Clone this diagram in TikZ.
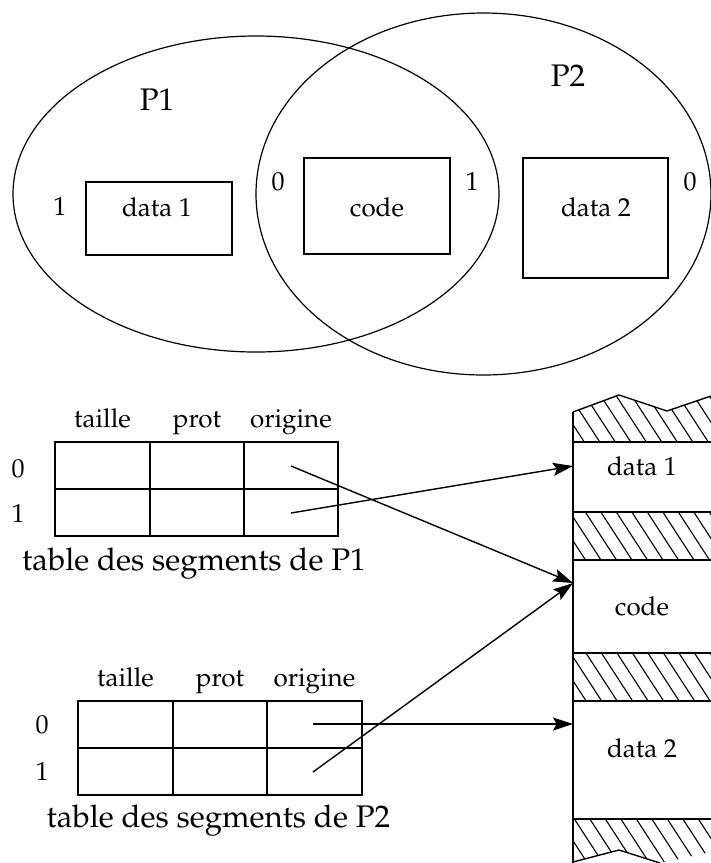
\documentclass[tikz,border=0pt]{standalone}
\usepackage[T1]{fontenc}
\usepackage{mathpazo}
\usetikzlibrary{arrows.meta}
\begin{document}
\begin{tikzpicture}[x=0.5pt,y=-0.5pt,
  line width=0.7pt,
  small/.style={font=\fontsize{13}{15}\selectfont, inner sep=0pt, anchor=base},
  big/.style={font=\fontsize{15.6}{18}\selectfont, inner sep=0pt, anchor=base},
  ptr/.style={-{Stealth[length=10pt,width=6.5pt,inset=1.8pt]}, line width=0.7pt},
  hatch/.style={line width=0.55pt}]
\useasboundingbox (0,0) rectangle (711,863);

% ---- process address spaces ----
\draw[line width=0.6pt] (256,194) ellipse [x radius=243, y radius=158];
\draw[line width=0.6pt] (483.5,194) ellipse [x radius=227.5, y radius=181];

\node[big] (p1) at (157,110) {P1};
\node[big] (p2) at (568,86) {P2};

\draw (86,182) rectangle (232,255);
\draw (304,158) rectangle (450,254);
\draw (523,158) rectangle (668,278);
\node[small] (d1) at (157,216) {data 1};
\node[small] (cd) at (377,216) {code};
\node[small] (d2) at (596,216) {data 2};

\node[small] (n1a) at (60,215) {1};
\node[small] (n0a) at (278,190) {0};
\node[small] (n1b) at (472,190) {1};
\node[small] (n0b) at (690,190) {0};

% ---- segment table of P1 ----
\draw (55,442) rectangle (338,536);
\draw (55,489) -- (338,489);
\draw (150,442) -- (150,536);
\draw (244,442) -- (244,536);
\node[small] (ha1) at (102.5,427) {taille};
\node[small] (hb1) at (197,427) {prot};
\node[small] (hc1) at (291,427) {origine};
\node[small] (r01) at (18,477) {0};
\node[small] (r11) at (18,522) {1};
\node[big] (cap1) at (194,570) {table des segments de P1};
\coordinate (a10) at (291,466);
\coordinate (a11) at (291,513);

% ---- segment table of P2 ----
\draw (78,701) rectangle (362,795);
\draw (78,748) -- (362,748);
\draw (173,701) -- (173,795);
\draw (267,701) -- (267,795);
\node[small] (ha2) at (125.5,686) {taille};
\node[small] (hb2) at (220,686) {prot};
\node[small] (hc2) at (314.5,686) {origine};
\node[small] (r02) at (42,733) {0};
\node[small] (r12) at (42,780) {1};
\node[big] (cap2) at (218.5,827) {table des segments de P2};
\coordinate (a20) at (313,724);
\coordinate (a21) at (313,772);

% ---- memory ----
% hatched bands
\begin{scope}
  \clip (573,412) -- (619,395) -- (667,411) -- (711,396) -- (711,442) -- (573,442) -- cycle;
  \foreach \x in {420,435.5,...,720} \draw[hatch] (\x,380) -- ({\x+0.65*100},480);
\end{scope}
\begin{scope}
  \clip (573,512) rectangle (711,560);
  \foreach \x in {500,515.5,...,720} \draw[hatch] (\x,500) -- ({\x+0.65*80},580);
\end{scope}
\begin{scope}
  \clip (573,653) rectangle (711,701);
  \foreach \x in {500,515.5,...,720} \draw[hatch] (\x,640) -- ({\x+0.65*80},720);
\end{scope}
\begin{scope}
  \clip (573,819) -- (711,819) -- (711,852) -- (660,863) -- (619,850) -- (573,862) -- cycle;
  \foreach \x in {500,515.5,...,720} \draw[hatch] (\x,800) -- ({\x+0.65*80},880);
\end{scope}
% outline
\draw (573,412) -- (619,395) -- (667,411) -- (711,396);
\draw (573,862) -- (619,850) -- (660,863);
\draw (573,412) -- (573,863);
\foreach \y in {442,512,560,653,701,819} \draw (573,\y) -- (711,\y);

\node[small] (m1) at (642,475) {data 1};
\node[small] (mc) at (642,615) {code};
\node[small] (m2) at (642,757) {data 2};
\coordinate (t1) at (573,466);
\coordinate (tc) at (573,583);
\coordinate (t2) at (573,724);

% ---- pointers ----
\draw[ptr] (a10) -- (tc);
\draw[ptr] (a11) -- (t1);
\draw[ptr] (a20) -- (t2);
\draw[ptr] (a21) -- (tc);
\end{tikzpicture}
\end{document}
